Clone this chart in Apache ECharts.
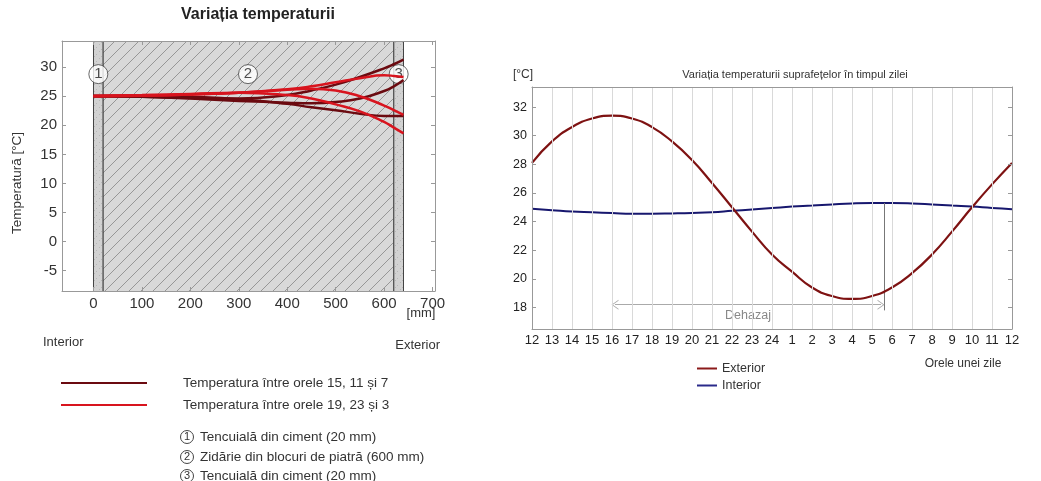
<!DOCTYPE html>
<html><head><meta charset="utf-8">
<script src="https://cdn.jsdelivr.net/npm/echarts@6/dist/echarts.min.js"></script>
<style>html,body{margin:0;padding:0;background:#fff}#c{width:1041px;height:481px}</style>
</head><body><div id="c"></div>
<script>
const FONT = '"Liberation Sans", Arial, sans-serif';

// ---------- Left chart data ----------
const depthMm = [0, 100, 200, 300, 400, 450, 500, 550, 600, 620, 640];
const tH15 = [25.0, 24.9, 24.7, 24.6, 25.2, 26.0, 27.0, 28.3, 29.8, 30.5, 31.3];
const tH11 = [25.0, 24.9, 24.6, 24.2, 23.9, 23.8, 24.0, 24.6, 25.9, 26.7, 27.8];
const tH7  = [25.1, 25.1, 24.9, 24.5, 23.7, 23.1, 22.6, 22.0, 21.6, 21.6, 21.6];
const tH19 = [25.0, 25.1, 25.3, 25.6, 26.2, 26.7, 27.4, 28.1, 28.6, 28.5, 28.3];
const tH23 = [25.0, 25.1, 25.3, 25.6, 26.1, 26.3, 26.0, 25.0, 23.4, 22.6, 21.8];
const tH3  = [25.1, 25.2, 25.4, 25.6, 25.2, 24.6, 23.6, 22.4, 20.6, 19.6, 18.6];
const layers = [[0, 20, 'plaster'], [20, 620, 'wall'], [620, 640, 'plaster']];
const layerMarks = [[10, 28.8, '1'], [319, 28.8, '2'], [630, 28.8, '3']];
const leftXTicks = [0, 100, 200, 300, 400, 500, 600, 700];
const leftYTicks = [-5, 0, 5, 10, 15, 20, 25, 30];
const leftXMin = -65, leftXMax = 705, leftYMin = -8.5, leftYMax = 34.5;

// ---------- Right chart data ----------
const hourLabels = ['12','13','14','15','16','17','18','19','20','21','22','23','24','1','2','3','4','5','6','7','8','9','10','11','12'];
const exterior = [28.1, 29.6, 30.6, 31.2, 31.4, 31.2, 30.6, 29.6, 28.3, 26.7, 25.0, 23.3, 21.7, 20.5, 19.4, 18.8, 18.6, 18.8, 19.4, 20.4, 21.7, 23.3, 25.0, 26.6, 28.1];
const interior = [24.9, 24.8, 24.7, 24.65, 24.6, 24.55, 24.55, 24.57, 24.6, 24.65, 24.75, 24.85, 24.95, 25.05, 25.12, 25.2, 25.27, 25.3, 25.3, 25.27, 25.2, 25.12, 25.05, 24.95, 24.87];
const rightYTicks = [18, 20, 22, 24, 26, 28, 30, 32];
const lagStart = 4, lagEnd = 17.6, lagY = 18.2, lagBase = 17.8, extMax = 31.4, intMax = 25.3;

function pair(xs, ys) { return xs.map((x, i) => [x, ys[i]]); }
function idx(arr) { return arr.map((v, i) => [i, v]); }

// patterns
function hatch() {
  const s = 12, c = document.createElement('canvas'); c.width = s; c.height = s;
  const g = c.getContext('2d');
  g.fillStyle = '#d9d9d9'; g.fillRect(0, 0, s, s);
  g.strokeStyle = '#979797'; g.lineWidth = 1;
  g.beginPath();
  g.moveTo(-1, s + 1); g.lineTo(s + 1, -1);
  g.moveTo(-2, 2); g.lineTo(2, -2);
  g.moveTo(s - 2, s + 2); g.lineTo(s + 2, s - 2);
  g.stroke();
  return c;
}
function speckle() {
  const c = document.createElement('canvas'); c.width = 7; c.height = 7;
  const g = c.getContext('2d');
  g.fillStyle = '#d2d2d2'; g.fillRect(0, 0, 7, 7);
  g.fillStyle = '#b8b8b8'; g.fillRect(1, 2, 1, 1); g.fillRect(5, 5, 1, 1); g.fillRect(3, 0, 1, 1);
  return c;
}
const hatchPat = { image: hatch(), repeat: 'repeat' };
const speckPat = { image: speckle(), repeat: 'repeat' };

const DARK = '#6b0a10', LIGHT = '#d8141e';
function profile(name, data, color) {
  return { type: 'line', name, xAxisIndex: 0, yAxisIndex: 0, data, smooth: true, symbol: 'none',
    lineStyle: { color, width: 2.5 }, itemStyle: { color }, z: 4, silent: true };
}

const chevron = 'path://M0,10 L5,0 L10,10 L9,10 L5,2 L1,10 Z';

const option = {
  animation: false,
  textStyle: { fontFamily: FONT },
  title: [
    { text: 'Variația temperaturii', left: 253, top: 2, textAlign: 'center',
      textStyle: { fontFamily: FONT, fontSize: 16, fontWeight: 'bold', color: '#222' } },
    { text: 'Variația temperaturii suprafețelor în timpul zilei', left: 790, top: 64, textAlign: 'center',
      textStyle: { fontFamily: FONT, fontSize: 11, fontWeight: 'normal', color: '#333' } }
  ],
  legend: {
    data: ['Exterior', 'Interior'], orient: 'vertical', left: 692, top: 357,
    itemWidth: 20, itemHeight: 2, itemGap: 4, icon: 'rect',
    textStyle: { fontFamily: FONT, fontSize: 12.5, color: '#333' }
  },
  grid: [
    { left: 62, top: 41, width: 373, height: 250 },
    { left: 532, top: 87, width: 480, height: 242 }
  ],
  xAxis: [
    { type: 'value', gridIndex: 0, min: leftXMin, max: leftXMax, z: 6,
      axisLine: { show: true, onZero: false, lineStyle: { color: '#999' } },
      axisTick: { show: true, inside: true, length: 4, customValues: leftXTicks, lineStyle: { color: '#999' } },
      axisLabel: { customValues: leftXTicks, margin: 5, fontSize: 15, color: '#333', fontFamily: FONT },
      splitLine: { show: false } },
    { type: 'value', gridIndex: 0, position: 'top', min: leftXMin, max: leftXMax, z: 6,
      axisLine: { show: true, onZero: false, lineStyle: { color: '#999' } },
      axisTick: { show: true, inside: true, length: 4, customValues: leftXTicks, lineStyle: { color: '#999' } },
      axisLabel: { show: false }, splitLine: { show: false } },
    { type: 'value', gridIndex: 1, min: 0, max: 24, interval: 1, z: 6,
      axisLine: { show: true, onZero: false, lineStyle: { color: '#999' } },
      axisTick: { show: false },
      axisLabel: { margin: 5, fontSize: 13, color: '#222', fontFamily: FONT, formatter: v => hourLabels[v] },
      splitLine: { show: true, lineStyle: { color: '#d9d9d9', width: 1 } } },
    { type: 'value', gridIndex: 1, position: 'top', min: 0, max: 24, z: 6,
      axisLine: { show: true, onZero: false, lineStyle: { color: '#999' } },
      axisTick: { show: false }, axisLabel: { show: false }, splitLine: { show: false } }
  ],
  yAxis: [
    { type: 'value', gridIndex: 0, min: leftYMin, max: leftYMax, z: 6,
      axisLine: { show: true, onZero: false, lineStyle: { color: '#999' } },
      axisTick: { show: true, inside: true, length: 4, customValues: leftYTicks, lineStyle: { color: '#999' } },
      axisLabel: { customValues: leftYTicks, margin: 5, fontSize: 15, color: '#333', fontFamily: FONT },
      splitLine: { show: false } },
    { type: 'value', gridIndex: 0, position: 'right', min: leftYMin, max: leftYMax, z: 6,
      axisLine: { show: true, onZero: false, lineStyle: { color: '#999' } },
      axisTick: { show: true, inside: true, length: 4, customValues: leftYTicks, lineStyle: { color: '#999' } },
      axisLabel: { show: false }, splitLine: { show: false } },
    { type: 'value', gridIndex: 1, min: 16.5, max: 33.4, z: 6,
      axisLine: { show: true, onZero: false, lineStyle: { color: '#999' } },
      axisTick: { show: true, inside: true, length: 4, customValues: rightYTicks, lineStyle: { color: '#999' } },
      axisLabel: { customValues: rightYTicks, margin: 5, fontSize: 12.5, color: '#222', fontFamily: FONT },
      splitLine: { show: false } },
    { type: 'value', gridIndex: 1, position: 'right', min: 16.5, max: 33.4, z: 6,
      axisLine: { show: true, onZero: false, lineStyle: { color: '#999' } },
      axisTick: { show: true, inside: true, length: 4, customValues: rightYTicks, lineStyle: { color: '#999' } },
      axisLabel: { show: false }, splitLine: { show: false } }
  ],
  series: [
    { type: 'custom', name: 'layers', xAxisIndex: 0, yAxisIndex: 0, data: layers, z: 1, silent: true,
      renderItem: function (params, api) {
        const p0 = api.coord([api.value(0), leftYMax]);
        const p1 = api.coord([api.value(1), leftYMin]);
        const kind = layers[params.dataIndex][2];
        return { type: 'group', children: [
          { type: 'rect', shape: { x: p0[0], y: p0[1], width: p1[0] - p0[0], height: p1[1] - p0[1] },
            style: { fill: kind === 'wall' ? hatchPat : speckPat } },
          { type: 'line', shape: { x1: p0[0], y1: p0[1], x2: p0[0], y2: p1[1] }, style: { stroke: '#444', lineWidth: 1 } },
          { type: 'line', shape: { x1: p1[0], y1: p0[1], x2: p1[0], y2: p1[1] }, style: { stroke: '#444', lineWidth: 1 } }
        ] };
      } },
    { type: 'scatter', name: 'marks', xAxisIndex: 0, yAxisIndex: 0, data: layerMarks, z: 3, silent: true,
      symbol: 'circle', symbolSize: 19,
      itemStyle: { color: '#fff', borderColor: '#444', borderWidth: 1 },
      label: { show: true, position: 'inside', formatter: p => p.data[2], fontSize: 15, color: '#222', fontFamily: FONT } },
    profile('h15', pair(depthMm, tH15), DARK),
    profile('h11', pair(depthMm, tH11), DARK),
    profile('h7', pair(depthMm, tH7), DARK),
    profile('h19', pair(depthMm, tH19), LIGHT),
    profile('h23', pair(depthMm, tH23), LIGHT),
    profile('h3', pair(depthMm, tH3), LIGHT),
    { type: 'line', name: 'Interior', xAxisIndex: 2, yAxisIndex: 2, data: idx(interior), smooth: true, symbol: 'none',
      lineStyle: { color: '#17176e', width: 2 }, itemStyle: { color: '#2a2a8a' }, z: 4,
      markLine: {
        silent: true, animation: false,
        data: [
          [{ coord: [lagStart, lagBase], symbol: 'none', lineStyle: { color: '#aaa', width: 1, type: 'solid' }, label: { show: false } },
           { coord: [lagStart, extMax], symbol: 'none' }],
          [{ coord: [lagEnd, lagBase], symbol: 'none', lineStyle: { color: '#777', width: 1, type: 'solid' }, label: { show: false } },
           { coord: [lagEnd, intMax], symbol: 'none' }],
          [{ coord: [lagStart + 0.15, lagY], symbol: chevron, symbolSize: [10, 7], lineStyle: { color: '#aaa', width: 1, type: 'solid' },
             label: { show: true, formatter: 'Dehazaj', position: 'insideMiddleBottom', distance: 4, color: '#888', fontSize: 12.5, fontFamily: FONT } },
           { coord: [lagEnd - 0.15, lagY], symbol: chevron, symbolSize: [10, 7] }]
        ]
      } },
    { type: 'line', name: 'Exterior', xAxisIndex: 2, yAxisIndex: 2, data: idx(exterior), smooth: true, symbol: 'none',
      lineStyle: { color: '#7e1212', width: 2.2 }, itemStyle: { color: '#8b1a1a' }, z: 5 }
  ],
  graphic: [
    { type: 'text', x: 17, y: 183, rotation: Math.PI / 2,
      style: { text: 'Temperatură [°C]', fontSize: 13.5, fontFamily: FONT, fill: '#333', align: 'center', verticalAlign: 'middle' } },
    { type: 'text', x: 421, y: 313, style: { text: '[mm]', fontSize: 13, fontFamily: FONT, fill: '#333', align: 'center', verticalAlign: 'middle' } },
    { type: 'text', x: 43, y: 342, style: { text: 'Interior', fontSize: 13, fontFamily: FONT, fill: '#333', align: 'left', verticalAlign: 'middle' } },
    { type: 'text', x: 440, y: 345, style: { text: 'Exterior', fontSize: 13, fontFamily: FONT, fill: '#333', align: 'right', verticalAlign: 'middle' } },
    { type: 'line', shape: { x1: 61, y1: 383, x2: 147, y2: 383 }, style: { stroke: DARK, lineWidth: 2 } },
    { type: 'line', shape: { x1: 61, y1: 405, x2: 147, y2: 405 }, style: { stroke: LIGHT, lineWidth: 2 } },
    { type: 'text', x: 183, y: 383, style: { text: 'Temperatura între orele 15, 11 și 7', fontSize: 13.5, fontFamily: FONT, fill: '#333', verticalAlign: 'middle' } },
    { type: 'text', x: 183, y: 405, style: { text: 'Temperatura între orele 19, 23 și 3', fontSize: 13.5, fontFamily: FONT, fill: '#333', verticalAlign: 'middle' } },
    { type: 'circle', shape: { cx: 187, cy: 437, r: 6.5 }, style: { fill: '#fff', stroke: '#444', lineWidth: 1 } },
    { type: 'text', x: 187, y: 437, style: { text: '1', fontSize: 11, fontFamily: FONT, fill: '#333', align: 'center', verticalAlign: 'middle' } },
    { type: 'text', x: 200, y: 437, style: { text: 'Tencuială din ciment (20 mm)', fontSize: 13.5, fontFamily: FONT, fill: '#333', verticalAlign: 'middle' } },
    { type: 'circle', shape: { cx: 187, cy: 457, r: 6.5 }, style: { fill: '#fff', stroke: '#444', lineWidth: 1 } },
    { type: 'text', x: 187, y: 457, style: { text: '2', fontSize: 11, fontFamily: FONT, fill: '#333', align: 'center', verticalAlign: 'middle' } },
    { type: 'text', x: 200, y: 457, style: { text: 'Zidărie din blocuri de piatră (600 mm)', fontSize: 13.5, fontFamily: FONT, fill: '#333', verticalAlign: 'middle' } },
    { type: 'circle', shape: { cx: 187, cy: 476, r: 6.5 }, style: { fill: '#fff', stroke: '#444', lineWidth: 1 } },
    { type: 'text', x: 187, y: 476, style: { text: '3', fontSize: 11, fontFamily: FONT, fill: '#333', align: 'center', verticalAlign: 'middle' } },
    { type: 'text', x: 200, y: 476, style: { text: 'Tencuială din ciment (20 mm)', fontSize: 13.5, fontFamily: FONT, fill: '#333', verticalAlign: 'middle' } },
    { type: 'text', x: 523, y: 75, style: { text: '[°C]', fontSize: 12, fontFamily: FONT, fill: '#333', align: 'center', verticalAlign: 'middle' } },
    { type: 'text', x: 963, y: 364, style: { text: 'Orele unei zile', fontSize: 12, fontFamily: FONT, fill: '#333', align: 'center', verticalAlign: 'middle' } }
  ]
};

const chart = echarts.init(document.getElementById('c'), null, { renderer: 'canvas' });
chart.setOption(option);
</script></body></html>
